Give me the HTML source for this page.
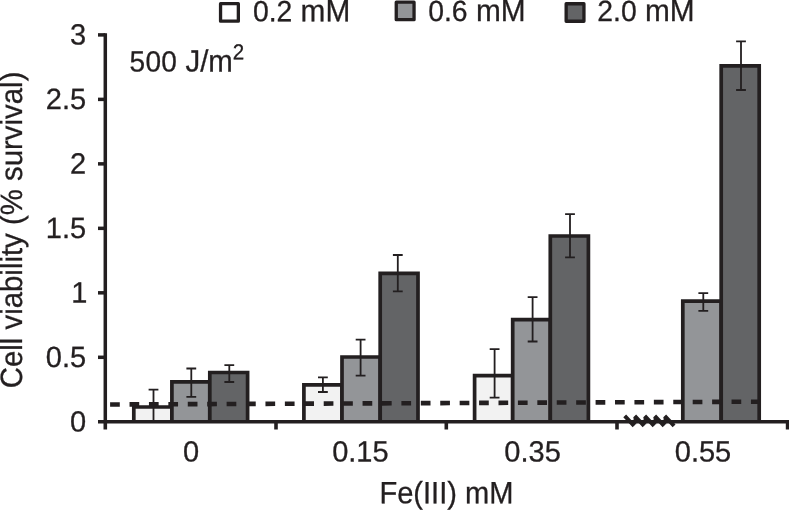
<!DOCTYPE html>
<html lang="en">
<head>
<meta charset="utf-8">
<title>Cell viability chart</title>
<style>
html,body{margin:0;padding:0;background:#fff;}
body{width:789px;height:510px;overflow:hidden;}
svg{display:block;}
</style>
</head>
<body>
<svg width="789" height="510" viewBox="0 0 789 510">
<rect width="789" height="510" fill="#fff"/>
<path d="M133.8 421.8V407.0H171.9V421.8" fill="#f2f2f2" stroke="#231f20" stroke-width="3.7" stroke-linejoin="miter"/>
<path d="M171.9 421.8V381.9H209.8V421.8" fill="#939598" stroke="#231f20" stroke-width="3.7" stroke-linejoin="miter"/>
<path d="M209.8 421.8V372.5H247.6V421.8" fill="#636466" stroke="#231f20" stroke-width="3.7" stroke-linejoin="miter"/>
<path d="M303.9 421.8V384.9H342.0V421.8" fill="#f2f2f2" stroke="#231f20" stroke-width="3.7" stroke-linejoin="miter"/>
<path d="M342.0 421.8V357.0H380.2V421.8" fill="#939598" stroke="#231f20" stroke-width="3.7" stroke-linejoin="miter"/>
<path d="M380.2 421.8V273.3H418.0V421.8" fill="#636466" stroke="#231f20" stroke-width="3.7" stroke-linejoin="miter"/>
<path d="M474.6 421.8V375.6H512.7V421.8" fill="#f2f2f2" stroke="#231f20" stroke-width="3.7" stroke-linejoin="miter"/>
<path d="M512.7 421.8V319.7H550.3V421.8" fill="#939598" stroke="#231f20" stroke-width="3.7" stroke-linejoin="miter"/>
<path d="M550.3 421.8V236.0H588.4V421.8" fill="#636466" stroke="#231f20" stroke-width="3.7" stroke-linejoin="miter"/>
<path d="M682.8 421.8V301.2H721.2V421.8" fill="#939598" stroke="#231f20" stroke-width="3.7" stroke-linejoin="miter"/>
<path d="M721.2 421.8V65.9H759.2V421.8" fill="#636466" stroke="#231f20" stroke-width="3.7" stroke-linejoin="miter"/>
<path d="M153.5 389.7V422.0M148.60 389.7H158.40" fill="none" stroke="#231f20" stroke-width="1.8"/>
<path d="M191.3 368.5V396.9M186.40 368.5H196.20M186.40 396.9H196.20" fill="none" stroke="#231f20" stroke-width="1.8"/>
<path d="M229.3 365.2V382.0M224.40 365.2H234.20M224.40 382.0H234.20" fill="none" stroke="#231f20" stroke-width="1.8"/>
<path d="M322.9 377.3V392.0M318.00 377.3H327.80M318.00 392.0H327.80" fill="none" stroke="#231f20" stroke-width="1.8"/>
<path d="M360.6 339.6V375.7M355.70 339.6H365.50M355.70 375.7H365.50" fill="none" stroke="#231f20" stroke-width="1.8"/>
<path d="M397.8 255.0V291.3M392.90 255.0H402.70M392.90 291.3H402.70" fill="none" stroke="#231f20" stroke-width="1.8"/>
<path d="M494.6 349.1V397.7M489.70 349.1H499.50M489.70 397.7H499.50" fill="none" stroke="#231f20" stroke-width="1.8"/>
<path d="M532.6 297.2V341.5M527.70 297.2H537.50M527.70 341.5H537.50" fill="none" stroke="#231f20" stroke-width="1.8"/>
<path d="M570.0 214.1V257.4M565.10 214.1H574.90M565.10 257.4H574.90" fill="none" stroke="#231f20" stroke-width="1.8"/>
<path d="M703.3 293.1V310.9M698.40 293.1H708.20M698.40 310.9H708.20" fill="none" stroke="#231f20" stroke-width="1.8"/>
<path d="M741.0 41.4V90.0M736.10 41.4H745.90M736.10 90.0H745.90" fill="none" stroke="#231f20" stroke-width="1.8"/>
<line x1="110.1" y1="404.5" x2="759.5" y2="401.7" stroke="#231f20" stroke-width="4.6" stroke-dasharray="9.7 9.72"/>
<g fill="none" stroke="#231f20" stroke-width="3.5"><path d="M105.3 33.2V421.8" /><path d="M98 421.8H789" /><path d="M98 34.90H105.3"/><path d="M98 99.38H105.3"/><path d="M98 163.86H105.3"/><path d="M98 228.34H105.3"/><path d="M98 292.82H105.3"/><path d="M98 357.30H105.3"/><path d="M105.3 421.8V429.5" stroke-width="3.6"/><path d="M276.0 421.8V429.5" stroke-width="3.6"/><path d="M446.3 421.8V429.5" stroke-width="3.6"/><path d="M617.0 421.8V429.5" stroke-width="3.6"/><path d="M787.6 421.8V429.5" stroke-width="3.6"/><path d="M624.7 415.9L634.1 425.9M634.7 415.9L644.1 425.9M644.7 415.9L654.1 425.9M654.7 415.9L664.1 425.9M664.7 415.9L674.1 425.9" stroke-width="3.9"/><path d="M635.0 424.3L634.8 417.3M645.0 424.3L644.8 417.3M655.0 424.3L654.8 417.3M665.0 424.3L664.8 417.3" stroke-width="2.6"/></g>
<rect x="220.55" y="3.65" width="17.8" height="17.5" fill="#fff" stroke="#231f20" stroke-width="3.3" stroke-linejoin="round"/>
<rect x="396.25" y="2.2" width="17.8" height="17.5" fill="#939598" stroke="#231f20" stroke-width="3.3" stroke-linejoin="round"/>
<rect x="566.15" y="3.75" width="17.8" height="17.5" fill="#636466" stroke="#231f20" stroke-width="3.3" stroke-linejoin="round"/>
<g fill="#231f20" font-family="'Liberation Sans', sans-serif" font-size="30.8" text-rendering="geometricPrecision" stroke="#231f20" stroke-width="0.3"><text transform="translate(86.1 44.6) rotate(0.03) scale(0.99 1)" text-anchor="end" font-size="29.3">3</text>
<text transform="translate(86.1 109.1) rotate(0.03) scale(0.99 1)" text-anchor="end" font-size="29.3">2.5</text>
<text transform="translate(86.1 173.6) rotate(0.03) scale(0.99 1)" text-anchor="end" font-size="29.3">2</text>
<text transform="translate(86.1 238.0) rotate(0.03) scale(0.99 1)" text-anchor="end" font-size="29.3">1.5</text>
<text transform="translate(87.4 302.5) rotate(0.03) scale(0.99 1)" text-anchor="end" font-size="29.3">1</text>
<text transform="translate(86.1 367.0) rotate(0.03) scale(0.99 1)" text-anchor="end" font-size="29.3">0.5</text>
<text transform="translate(86.1 431.5) rotate(0.03) scale(0.99 1)" text-anchor="end" font-size="29.3">0</text>
<text transform="translate(191 461.5) rotate(0.03) scale(0.99 1)" text-anchor="middle" font-size="29.3">0</text>
<text transform="translate(360.4 461.5) rotate(0.03) scale(0.99 1)" text-anchor="middle" font-size="29.3">0.15</text>
<text transform="translate(532.6 461.5) rotate(0.03) scale(0.99 1)" text-anchor="middle" font-size="29.3">0.35</text>
<text transform="translate(703.0 461.5) rotate(0.03) scale(0.99 1)" text-anchor="middle" font-size="29.3">0.55</text>
<text transform="translate(379.4 503.3) rotate(0.03) scale(0.944 1)" text-anchor="start" font-size="30.8">Fe(III) mM</text>
<text transform="translate(129.5 71.4) rotate(0.03) scale(0.956 1)" text-anchor="start" font-size="30.8"><tspan font-size="29.3" letter-spacing="0.35">500</tspan> J/m<tspan font-size="21.5" dy="-12.3">2</tspan></text>
<text transform="translate(22.3 388.3) rotate(-90) scale(0.954 1)">Cell viability (% survival)</text>
<text transform="translate(252.9 21.2) rotate(0.03) scale(0.968 1)" text-anchor="start" font-size="30.8"><tspan font-size="29.3">0.2</tspan> mM</text>
<text transform="translate(428.2 20.9) rotate(0.03) scale(0.968 1)" text-anchor="start" font-size="30.8"><tspan font-size="29.3">0.6</tspan> mM</text>
<text transform="translate(597.3 20.9) rotate(0.03) scale(0.968 1)" text-anchor="start" font-size="30.8"><tspan font-size="29.3">2.0</tspan> mM</text></g>
</svg>
</body>
</html>
